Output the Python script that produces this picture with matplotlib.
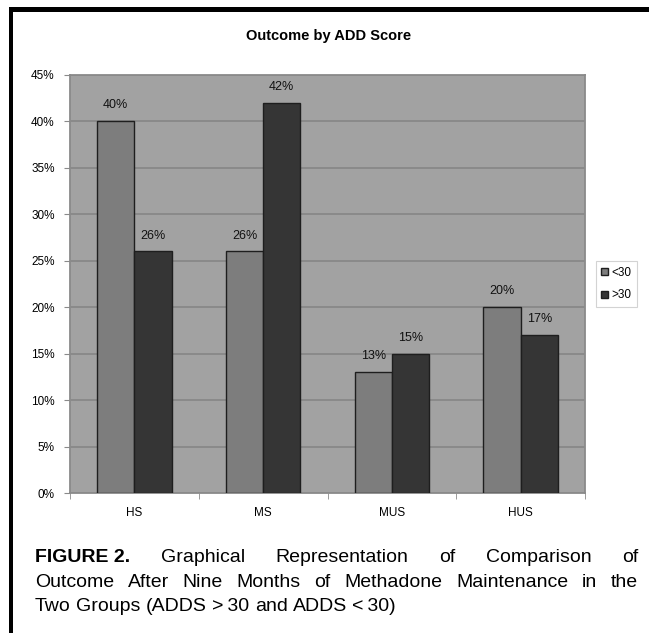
import matplotlib
matplotlib.use("Agg")
import matplotlib.pyplot as plt
from matplotlib import font_manager
from matplotlib.patches import Rectangle
import numpy as np

categories = ["HS", "MS", "MUS", "HUS"]
series_names = ["<30", ">30"]
values_lt30 = [40, 26, 13, 20]
values_gt30 = [26, 42, 15, 17]
yticks = [0, 5, 10, 15, 20, 25, 30, 35, 40, 45]
title = "Outcome by ADD Score"
caption_lines = [
    ("FIGURE 2.", "Graphical Representation of Comparison of"),
    (None, "Outcome After Nine Months of Methadone Maintenance in the"),
    (None, "Two Groups (ADDS >\u200930 and ADDS <\u200930)"),
]

names = {f.name for f in font_manager.fontManager.ttflist}
narrow = "Liberation Sans Narrow" if "Liberation Sans Narrow" in names else "Liberation Sans"
capfont = ["Liberation Sans", "DejaVu Sans"]

W, H = 649, 633
fig = plt.figure(figsize=(W / 100, H / 100), dpi=100)
fig.patch.set_facecolor("white")

def fx(x):
    return x / W

def fy(y):
    return 1 - y / H

ax = fig.add_axes([fx(70), fy(493), (585 - 70) / W, (493 - 75) / H])
ax.set_facecolor("#a2a2a2")

x = np.arange(len(categories))
bw = 0.29
b1 = ax.bar(x - bw / 2, values_lt30, bw, color="#7d7d7d", edgecolor="#1e1e1e", linewidth=1.0, label=series_names[0], zorder=3)
b2 = ax.bar(x + bw / 2, values_gt30, bw, color="#353535", edgecolor="#1e1e1e", linewidth=1.0, label=series_names[1], zorder=3)

for bars, vals in ((b1, values_lt30), (b2, values_gt30)):
    for r, v in zip(bars, vals):
        ax.annotate(f"{v}%", (r.get_x() + r.get_width() / 2, v), xytext=(0, 11.5),
                    textcoords="offset points", ha="center", va="center",
                    fontsize=9, family=narrow, color="#111111")

ax.set_xlim(-0.5, len(categories) - 0.5)
ax.set_ylim(0, 45)
ax.set_yticks(yticks)
ax.set_yticklabels([f"{t}%" for t in yticks], fontsize=8.5, family=narrow)
ax.set_xticks(x)
ax.set_xticklabels(categories, fontsize=8.5, family=narrow)
ax.set_xticks(np.arange(-0.5, len(categories)), minor=True)
ax.tick_params(axis="x", which="major", length=0, pad=10)
ax.tick_params(axis="x", which="minor", length=4, color="#8a8a8a")
ax.tick_params(axis="y", length=4, color="#8a8a8a", pad=7)
ax.yaxis.grid(True, color="#868686", linewidth=1.2, zorder=1)
ax.set_axisbelow(True)
for s in ax.spines.values():
    s.set_color("#8a8a8a")
    s.set_linewidth(1.3)

leg = fig.legend(handles=[b1, b2], labels=series_names, loc="center left",
                 bbox_to_anchor=(fx(596), fy(284)), borderaxespad=0, frameon=True,
                 fancybox=False, edgecolor="#c8c8c8", handlelength=0.55,
                 handleheight=0.55, handletextpad=0.3, borderpad=0.45,
                 labelspacing=0.9, prop={"family": narrow, "size": 8.5})
leg.get_frame().set_linewidth(0.8)

fig.text(fx(329), fy(36), title, ha="center", va="center", fontsize=10.5,
         fontweight="bold", family=narrow)

# frame lines
fig.add_artist(Rectangle((fx(9), 0), (13 - 9) / W, fy(7), transform=fig.transFigure,
                         color="black", lw=0))
fig.add_artist(Rectangle((fx(9), fy(12)), 1, 5 / H, transform=fig.transFigure,
                         color="black", lw=0))

# caption, justified
fig.canvas.draw()
renderer = fig.canvas.get_renderer()
left, right = 35, 638
baselines = [562, 587, 611]
fs = 14

def width_of(t):
    return t.get_window_extent(renderer=renderer).width

for i, ((bold, rest), yb) in enumerate(zip(caption_lines, baselines)):
    words = []
    if bold:
        words.append((bold, "bold"))
    words += [(w, "normal") for w in rest.split(" ")]
    texts = []
    for w, wt in words:
        t = fig.text(0, fy(yb), w, fontsize=fs, fontweight=wt, family=capfont,
                     ha="left", va="baseline")
        texts.append(t)
    widths = [width_of(t) for t in texts]
    justify = i < len(caption_lines) - 1
    if justify:
        gap = (right - left - sum(widths)) / (len(texts) - 1)
    else:
        sp = fig.text(0, 0, "a a", fontsize=fs, family=capfont)
        sp2 = fig.text(0, 0, "aa", fontsize=fs, family=capfont)
        gap = width_of(sp) - width_of(sp2)
        sp.remove(); sp2.remove()
    cx = left
    for t, w in zip(texts, widths):
        t.set_x(fx(cx))
        cx += w + gap

fig.savefig("out.png", dpi=100, facecolor="white")
